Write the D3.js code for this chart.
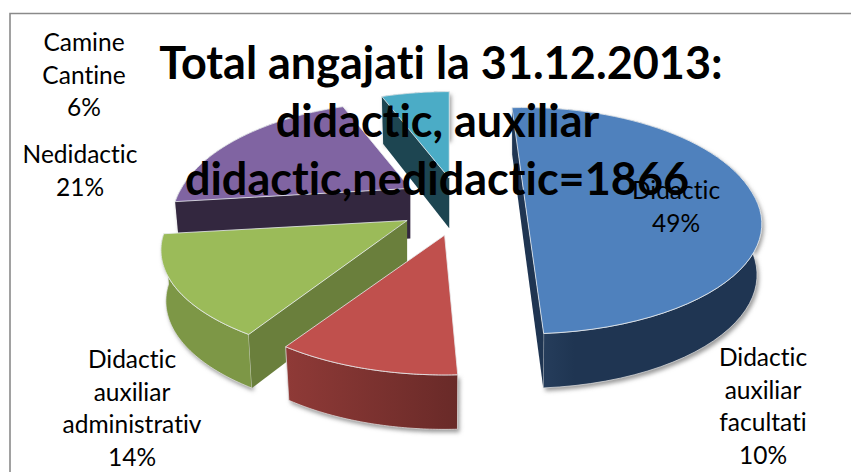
<!DOCTYPE html>
<html><head><meta charset="utf-8">
<script src="https://cdnjs.cloudflare.com/ajax/libs/d3/7.8.5/d3.min.js"></script>
<style>html,body{margin:0;padding:0;background:#fff;overflow:hidden}svg{display:block}text{font-family:Lato,"Open Sans",sans-serif;font-variant-ligatures:none;font-feature-settings:"liga" 0,"kern" 1}</style>
</head><body><div id="chart"></div>
<script>
const categories = ["Didactic","Didactic auxiliar facultati","Didactic auxiliar administrativ","Nedidactic","Camine Cantine"];
const shares = [49,10,14,21,6];
const titleLines = ["Total angajati la 31.12.2013:","didactic, auxiliar","didactic,nedidactic=1866"];
const topColors = ["#4f81bd","#c0504d","#9bbb59","#8064a2","#4bacc6"];
const rimDark = ["#1f3552","#692a28","#7d9746","#33273f","#1d4551"];
const rimLight = ["#2c4565","#8f3a37","#7d9746","#33273f","#1d4551"];
const faceColors = ["#1f3552","#692a28","#6a7f3c","#33273f","#1d4551"];
const explode = [62,70,65,60,68];
const lift = [-5,5,5,2,8];
const startNudge = [-3.8,1.2,-1.5,0,0];
const radiusScale = [1,1,1.035,1,1];
const drawOrder = [4,3,0,2,1];
const labelLines = [["Didactic","49%"],["Didactic","auxiliar","facultati","10%"],["Didactic","auxiliar","administrativ","14%"],["Nedidactic","21%"],["Camine","Cantine","6%"]];
const labelX = [676,763,132,80,84];
const labelY = [199,366,368,163,51];
const titleX = [441,437.5,437];

const W=851,H=472,cx=462,cy=200,R=229,tiltFront=102,tiltBack=110,persp=0.27,taper=0.98;
const rad=Math.PI/180;
const svg=d3.select("#chart").append("svg").attr("width",W).attr("height",H);
const defs=svg.append("defs");
defs.append("filter").attr("id","sh").attr("x","-10%").attr("y","-10%").attr("width","120%").attr("height","120%")
 .append("feGaussianBlur").attr("stdDeviation",2);
svg.append("path").attr("d",`M10,${H}V13.5H${W}`).attr("fill","none").attr("stroke","#8a8a8a").attr("stroke-width",1.6);

const arcs=d3.pie().sort(null).value(d=>d)(shares);
const depth=s=>38+12*s;
function proj(apex,a,k){
  const u=-Math.cos(a), sa=Math.sin(a), s=1/(1-persp*u);
  return {x:apex.x+R*k*sa*s, y:apex.y+(u>0?tiltFront:tiltBack)*u*s, s};
}
const line=d3.line().x(d=>d.x).y(d=>d.y);

const slices=arcs.map((d,i)=>{
  const mid=(d.startAngle+d.endAngle)/2;
  const u=-Math.cos(mid);
  const apex={x:cx+explode[i]*Math.sin(mid), y:cy+tiltFront/R*u*explode[i]+lift[i], s:1};
  const a0=d.startAngle+startNudge[i]*rad;
  const samples=d3.range(0,61).map(k=>proj(apex,a0+(d.endAngle-a0)*k/60,radiusScale[i]));
  return {i,apex,samples};
});
// a radial wall shows only when the slice's top surface lies above that edge on screen
function wallVisible(apex,edge,probe){
  const t=(probe.x-apex.x)/(edge.x-apex.x||1e-6);
  return probe.y < apex.y+(edge.y-apex.y)*t;
}
drawOrder.forEach(i=>{
  const sl=slices[i], g=svg.append("g");
  const apex=sl.apex, pts=sl.samples;
  const down=p=>({x:apex.x+(p.x-apex.x)*taper,y:p.y+depth(p.s),s:p.s});
  const apexB=down(apex), b=pts.map(down);
  const grad=defs.append("linearGradient").attr("id","rim"+i).attr("gradientUnits","userSpaceOnUse")
    .attr("x1",d3.min(pts,p=>p.x)).attr("x2",d3.max(pts,p=>p.x)).attr("y1",0).attr("y2",0);
  grad.append("stop").attr("offset",0).attr("stop-color",rimLight[i]);
  grad.append("stop").attr("offset",i===0?0.25:1).attr("stop-color",rimDark[i]);
  g.append("path").attr("d",line([...b,...pts.slice().reverse()])+"Z").attr("fill","#999").attr("filter","url(#sh)").attr("transform","translate(2,3)");
  g.append("path").attr("d",line([...pts,...b.slice().reverse()])+"Z").attr("fill",`url(#rim${i})`).attr("stroke","#e6e6e6").attr("stroke-width",.7);
  [0,60].filter(e=>wallVisible(apex,pts[e],pts[30])).forEach(e=>{
    g.append("path").attr("d",line([apex,pts[e],b[e],apexB])+"Z").attr("fill",faceColors[i]);
  });
  g.append("path").attr("d",line([...pts,apex])+"Z").attr("fill",topColors[i]).attr("stroke","#e8ecef").attr("stroke-width",.8);
});
const labels=svg.append("g").attr("font-size",24.5).attr("fill","#000").attr("text-anchor","middle");
labelLines.forEach((ls,i)=>ls.forEach((t,j)=>labels.append("text").attr("x",labelX[i]).attr("y",labelY[i]+j*32.5).text(t)));
const title=svg.append("g").attr("font-size",45).attr("font-weight",700).attr("fill","#000").attr("text-anchor","middle");
titleLines.forEach((t,j)=>title.append("text").attr("x",titleX[j]).attr("y",79+j*58).text(t));
</script></body></html>
